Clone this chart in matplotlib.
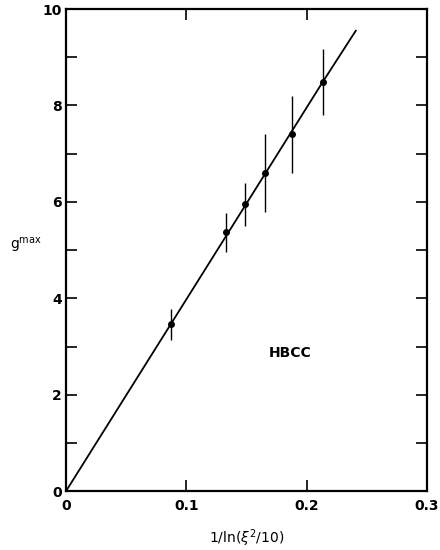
import matplotlib
matplotlib.use("Agg")
import matplotlib.pyplot as plt
from matplotlib.ticker import MultipleLocator

# data
x_vals = [0.087, 0.133, 0.149, 0.165, 0.1876, 0.2134]
g_vals = [3.46, 5.37, 5.95, 6.60, 7.40, 8.49]
g_err = [0.32, 0.40, 0.45, 0.80, 0.80, 0.68]
fit_x = [0.0, 0.087, 0.2134, 0.2408]
fit_y = [0.0, 3.46, 8.49, 9.55]
x_ticks = [0, 0.1, 0.2, 0.3]
x_ticklabels = ["0", "0.1", "0.2", "0.3"]
y_ticks = [0, 2, 4, 6, 8, 10]
y_ticklabels = ["0", "2", "4", "6", "8", "10"]

plt.rcParams['font.family'] = ['Liberation Sans Narrow', 'DejaVu Sans Condensed', 'DejaVu Sans']

fig = plt.figure(figsize=(4.4, 5.5), dpi=100)
ax = fig.add_axes([0.15, 0.107, 0.8205, 0.8766])

ax.plot(fit_x, fit_y, color='black', lw=1.3)
ax.errorbar(x_vals, g_vals, yerr=g_err, fmt='o', color='black', ms=4,
            elinewidth=1.0, capsize=0)

ax.set_xlim(0, 0.3)
ax.set_ylim(0, 10)
ax.set_xticks(x_ticks)
ax.set_xticklabels(x_ticklabels)
ax.set_yticks(y_ticks)
ax.set_yticklabels(y_ticklabels)
ax.yaxis.set_minor_locator(MultipleLocator(1))

ax.tick_params(which='both', direction='in', top=True, right=True, width=1.2,
               labelsize=10)
ax.tick_params(which='major', length=8)
ax.tick_params(which='minor', length=8)
ax.tick_params(axis='x', pad=6)
ax.tick_params(axis='y', pad=3)
for lbl in ax.get_xticklabels() + ax.get_yticklabels():
    lbl.set_fontweight('semibold')
for s in ax.spines.values():
    s.set_linewidth(1.6)

ax.set_xlabel(r"1/ln($\xi^2$/10)", fontsize=10, labelpad=10)
ax.set_ylabel(r"g$^{\rm max}$", fontsize=10, rotation=0, labelpad=14)
ax.yaxis.set_label_coords(-0.11, 0.49)
ax.text(0.186, 2.87, "HBCC", fontsize=10, ha='center', va='center',
        fontweight='semibold')

fig.savefig("out.png", dpi=100)
